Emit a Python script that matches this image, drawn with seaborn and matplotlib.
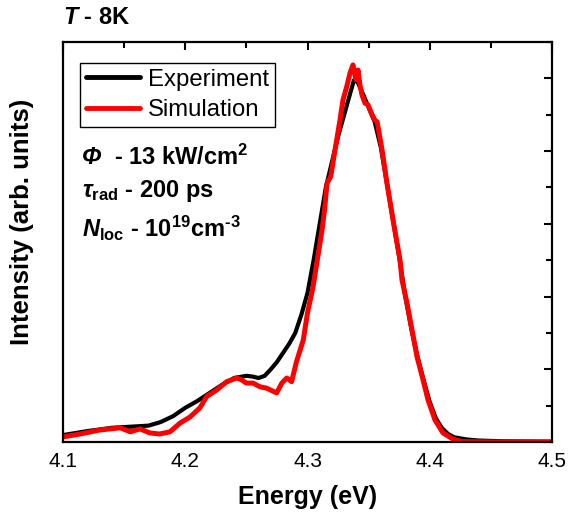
import matplotlib
matplotlib.use("Agg")
import matplotlib.pyplot as plt
import seaborn as sns
import numpy as np
import pandas as pd
from matplotlib.ticker import MultipleLocator, NullFormatter

# ---- data ----
exp_energy = [4.10, 4.12, 4.14, 4.16, 4.17, 4.18, 4.19, 4.20, 4.21, 4.22, 4.23, 4.24,
              4.25, 4.255, 4.26, 4.265, 4.27, 4.275, 4.28, 4.285, 4.29, 4.295, 4.30,
              4.305, 4.31, 4.315, 4.32, 4.325, 4.33, 4.335, 4.338, 4.341, 4.345, 4.35,
              4.355, 4.36, 4.365, 4.37, 4.375, 4.38, 4.385, 4.39, 4.395, 4.40, 4.405,
              4.41, 4.415, 4.42, 4.43, 4.44, 4.46, 4.50]
exp_intensity = [0.019, 0.030, 0.039, 0.043, 0.045, 0.055, 0.071, 0.094, 0.113, 0.135,
                 0.157, 0.176, 0.182, 0.180, 0.176, 0.182, 0.200, 0.220, 0.245, 0.270,
                 0.300, 0.350, 0.410, 0.500, 0.600, 0.700, 0.770, 0.840, 0.900, 0.960,
                 0.995, 0.990, 0.960, 0.920, 0.880, 0.810, 0.710, 0.610, 0.510, 0.400,
                 0.310, 0.235, 0.170, 0.110, 0.065, 0.038, 0.022, 0.013, 0.007, 0.004,
                 0.002, 0.001]

sim_energy = [4.100, 4.114, 4.130, 4.147, 4.155, 4.163, 4.171, 4.179, 4.1875, 4.1957,
              4.204, 4.212, 4.2175, 4.2257, 4.234, 4.242, 4.246, 4.250, 4.2556, 4.261,
              4.2666, 4.2748, 4.279, 4.283, 4.287, 4.291, 4.2965, 4.300, 4.3045, 4.308,
              4.3119, 4.314, 4.316, 4.319, 4.3225, 4.3266, 4.329, 4.3323, 4.3348, 4.3372,
              4.3397, 4.3413, 4.343, 4.3446, 4.347, 4.3495, 4.3528, 4.355, 4.357, 4.361,
              4.365, 4.370, 4.3757, 4.3773, 4.3814, 4.3855, 4.3896, 4.3945, 4.3986,
              4.4043, 4.4108, 4.419, 4.4264, 4.45, 4.50]
sim_intensity = [0.014, 0.022, 0.033, 0.039, 0.028, 0.036, 0.025, 0.022, 0.028, 0.052,
                 0.069, 0.094, 0.125, 0.143, 0.166, 0.176, 0.171, 0.162, 0.162, 0.152,
                 0.148, 0.135, 0.162, 0.176, 0.166, 0.221, 0.280, 0.355, 0.426, 0.500,
                 0.583, 0.640, 0.712, 0.730, 0.803, 0.886, 0.940, 0.980, 1.015, 1.037,
                 0.996, 1.023, 0.980, 0.954, 0.932, 0.927, 0.900, 0.886, 0.880, 0.803,
                 0.712, 0.610, 0.500, 0.4455, 0.382, 0.308, 0.234, 0.171, 0.1155,
                 0.0605, 0.025, 0.008, 0.001, 0.0, 0.0]

exp_df = pd.DataFrame({"Energy": exp_energy, "Intensity": exp_intensity})
sim_df = pd.DataFrame({"Energy": sim_energy, "Intensity": sim_intensity})

# ---- style ----
sns.set_style("white")
plt.rcParams['font.family'] = ['Liberation Sans', 'DejaVu Sans']
plt.rcParams['text.color'] = 'black'
plt.rcParams['axes.labelcolor'] = 'black'
plt.rcParams['xtick.color'] = 'black'
plt.rcParams['ytick.color'] = 'black'
plt.rcParams['mathtext.fontset'] = 'custom'
plt.rcParams['mathtext.rm'] = 'Liberation Sans:bold'
plt.rcParams['mathtext.bf'] = 'Liberation Sans:bold'
plt.rcParams['mathtext.it'] = 'Liberation Sans:bold:italic'
plt.rcParams['mathtext.sf'] = 'Liberation Sans:bold'

fig = plt.figure(figsize=(5.69, 5.19), dpi=100)
ax = fig.add_axes([63/569, 1-442/519, (552-63)/569, (442-42)/519])

sns.lineplot(data=exp_df, x="Energy", y="Intensity", ax=ax, color="black",
             linewidth=3.0, label="Experiment", sort=False)
sns.lineplot(data=sim_df, x="Energy", y="Intensity", ax=ax, color="#ff0000",
             linewidth=3.6, label="Simulation", sort=False)

ax.set_xlim(4.1, 4.5)
ax.set_ylim(0, 1.1)
ax.xaxis.set_major_locator(MultipleLocator(0.1))
ax.xaxis.set_minor_locator(MultipleLocator(0.05))
ax.yaxis.set_major_locator(MultipleLocator(0.2))
ax.yaxis.set_minor_locator(MultipleLocator(0.1))
ax.yaxis.set_major_formatter(NullFormatter())
ax.tick_params(which='both', direction='in', top=True, right=True, width=1.5,
               color='black')
ax.tick_params(which='major', length=6, labelsize=15, pad=7)
ax.tick_params(which='minor', length=4)
for s in ax.spines.values():
    s.set_linewidth(1.6)
    s.set_color('black')

ax.set_xlabel("Energy (eV)", fontsize=18, fontweight='bold')
ax.xaxis.set_label_coords(0.5, -(497-442)/400)
ax.xaxis.label.set_va('center')
ax.set_ylabel("Intensity (arb. units)", fontsize=18.5, fontweight='bold')
ax.yaxis.set_label_coords(-(63-22)/489, 0.5 + (400/2 - (222-42))/400)
ax.yaxis.label.set_va('center')

fig.text(63/569, 1-18/519, r"$\mathit{T}$ - 8K", fontsize=17, fontweight='bold',
         ha='left', va='center')

leg = ax.legend(loc='upper left', bbox_to_anchor=(0.035, 0.948), fontsize=17.2,
                frameon=True, fancybox=False, edgecolor='black', handlelength=2.25,
                handletextpad=0.33, borderpad=0.25, labelspacing=0.36,
                borderaxespad=0, framealpha=1)
leg.get_frame().set_linewidth(1.0)
for line in leg.get_lines():
    line.set_linewidth(3.5)

x0 = (82-63)/489
ax.text(x0, 0.712, "Φ", transform=ax.transAxes, fontsize=17, fontweight='bold',
        style='italic', va='center', ha='left')
ax.text(x0 + 32/489, 0.712, r"- 13 kW/cm$^{2}$", transform=ax.transAxes,
        fontsize=17, fontweight='bold', va='center', ha='left')
ax.text(x0, 0.628, r"$\tau_{\mathrm{rad}}$ - 200 ps", transform=ax.transAxes,
        fontsize=17, fontweight='bold', va='center', ha='left')
ax.text(x0, 0.535, r"$\mathit{N}_{\mathrm{loc}}$ - 10$^{19}$cm$^{\text{-3}}$",
        transform=ax.transAxes, fontsize=17, fontweight='bold', va='center', ha='left')

fig.savefig("out.png", dpi=100)
